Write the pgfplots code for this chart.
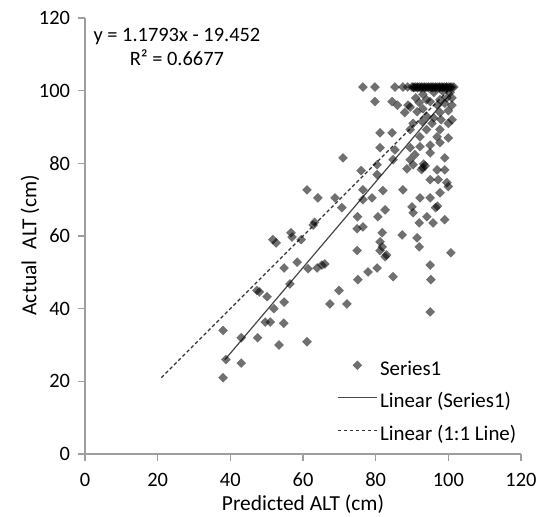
\documentclass[border=0pt]{standalone}
\usepackage{fontspec}
\setmainfont{Carlito}
\usepackage{pgfplots}
\pgfplotsset{compat=1.18}
\pgfplotsset{
  linelegend/.style={legend image code/.code={\draw[##1] (0bp,7.5bp) -- (39bp,7.5bp);}},
  marklegend/.style={legend image code/.code={\draw[mark repeat=2,mark phase=2,##1] plot coordinates {(0bp,7.5bp) (19.5bp,7.5bp) (39bp,7.5bp)};}},
}
\pgfplotstableread{
x y
38 21
38.8 26
43 25
38 34
43 32
47.5 32
49.6 36.3
51 36.3
53.4 30
54.7 36
52 40
54.8 41.8
50.1 43.3
47.3 45
48 44.6
56.4 46.8
54.8 51.2
58.4 52.8
61.1 30.9
67.4 41.3
61.4 51
63.9 51.2
65.2 52
66 52.3
51.7 59
52.6 58.1
56.7 60.9
57 59.7
59.5 59
62.8 63
63.2 63.8
61.1 72.7
64.1 70.5
68.8 70.5
70.7 67.8
71 81.5
74.9 62
74.9 56
69.9 45
72.1 41.3
75.1 48
77.9 50.1
80.4 51.2
81.2 58.4
81.8 57
81.2 56
82.6 54.3
83 54.8
81.8 60.9
84.8 48.8
87.3 60.3
91.4 59.5
92 57
95 52
95.2 48
95 39.1
100.7 55.4
92 63.6
75 65.3
76.5 62.5
80.6 65.3
82.6 67.2
76 78
76.5 70
76.5 72.7
79 70.5
80.4 76.9
82 72.5
87.5 72.7
88.6 78.5
90 68
96.5 67.8
97 68.2
90.3 66.4
94.1 65.3
95.8 63.6
99 64.5
92.2 70.5
95 70.5
97.7 71.9
100 73.6
95 75.5
97.2 75.5
99.6 74.7
79.8 97
84.5 97
86 96
88.9 96
92 96.7
95 97
97.7 97.5
99.6 98
100.5 99.5
88 94
91.4 94.2
94 93
97.7 94
100 91
95.5 91
92.8 91.5
90.3 91
89.5 89.3
94 89.3
97.7 89.3
100 87
96.9 87.3
92.2 87.3
81.2 88.4
84.5 88.4
81.2 84.3
85.3 83.7
89.5 84.3
92.2 84.6
95 85
97.7 85.7
90.8 82.4
95 82.9
99 81.5
84.8 81
89.5 81
90.3 79.6
93 78.8
93.6 79.3
92.6 78.3
93.2 79.8
96.9 78.2
99 78.2
80.4 79.6
93 99
96 99.5
98.5 99.8
91 98
94 97.5
97 96
99 96.5
101 98
101 96
100 94.5
98 92
96 92.5
93 95
101 92
89.5 95.5
76.5 101
79.8 101
85.3 101
87.5 101
88.8 101
90 101
90.5 101
91 101
91.5 101
92 101
92.5 101
93 101
93.5 101
94 101
94.5 101
95 101
95.5 101
96 101
96.5 101
97 101
97.5 101
98 101
98.5 101
99 101
99.5 101
100 101
100.5 101
101 101
101.5 101
90.5 100.8
91.5 100.8
92.5 100.8
93.5 100.8
94.5 100.8
95.5 100.8
96.5 100.8
97.5 100.8
98.5 100.8
99.5 100.8
100.5 100.8
}\seriesone
\begin{document}
\begin{tikzpicture}[font=\fontsize{20.5}{24}\selectfont]
\path (-85bp,-63bp) rectangle (456bp,454bp);
\begin{axis}[
  at={(0,0)}, anchor=origin,
  scale only axis, width=436bp, height=436bp,
  xmin=0, xmax=120, ymin=0, ymax=120,
  xtick={0,20,...,120}, ytick={0,20,...,120},
  axis lines=left,
  axis line style={-, draw=black!38, line width=1.4bp},
  tick style={draw=black!38, line width=1.4bp},
  tick align=outside, major tick length=6.5bp,
  /pgf/number format/assume math mode=true,
  xticklabel style={yshift=-9bp},
  yticklabel style={xshift=-5bp},
  clip=false,
  xlabel={Predicted ALT (cm)},
  ylabel={Actual\hspace{0.3em} ALT (cm)},
  label style={font=\fontsize{21.5}{25}\selectfont},
  xlabel style={at={(axis description cs:0.5,-0.129)}, anchor=base},
  ylabel style={at={(axis description cs:-0.126,0.479)}, anchor=center},
  legend style={draw=none, fill=none, at={(axis description cs:0.578,0.224)}, anchor=north west,
    inner sep=0pt, font=\fontsize{21}{25}\selectfont,
    nodes={inner sep=2.5bp, text height=0.75em, text depth=0.25em, minimum height=32.5bp}},
  legend cell align=left,
]
\addplot[only marks, mark=square*, mark size=3.4bp,
  mark options={rotate=45, fill=black, fill opacity=0.56, draw opacity=0, line width=0pt}, marklegend]
  table[x=x,y=y] {\seriesone};
\addlegendentry{Series1}
\addplot[black!72, line width=1.2bp, linelegend]
  coordinates {(38.5,25.95) (101,99.66)};
\addlegendentry{Linear (Series1)}
\addplot[black!80, line width=1.3bp, dash pattern=on 3.5bp off 2.5bp, linelegend]
  coordinates {(21,21) (100.5,100.5)};
\addlegendentry{Linear (1:1 Line)}
\node[anchor=base] at (axis cs:25.3,113.4) {y = 1.1793x - 19.452};
\node[anchor=base] at (axis cs:25.3,106.8) {R² = 0.6677};
\end{axis}
\end{tikzpicture}
\end{document}
